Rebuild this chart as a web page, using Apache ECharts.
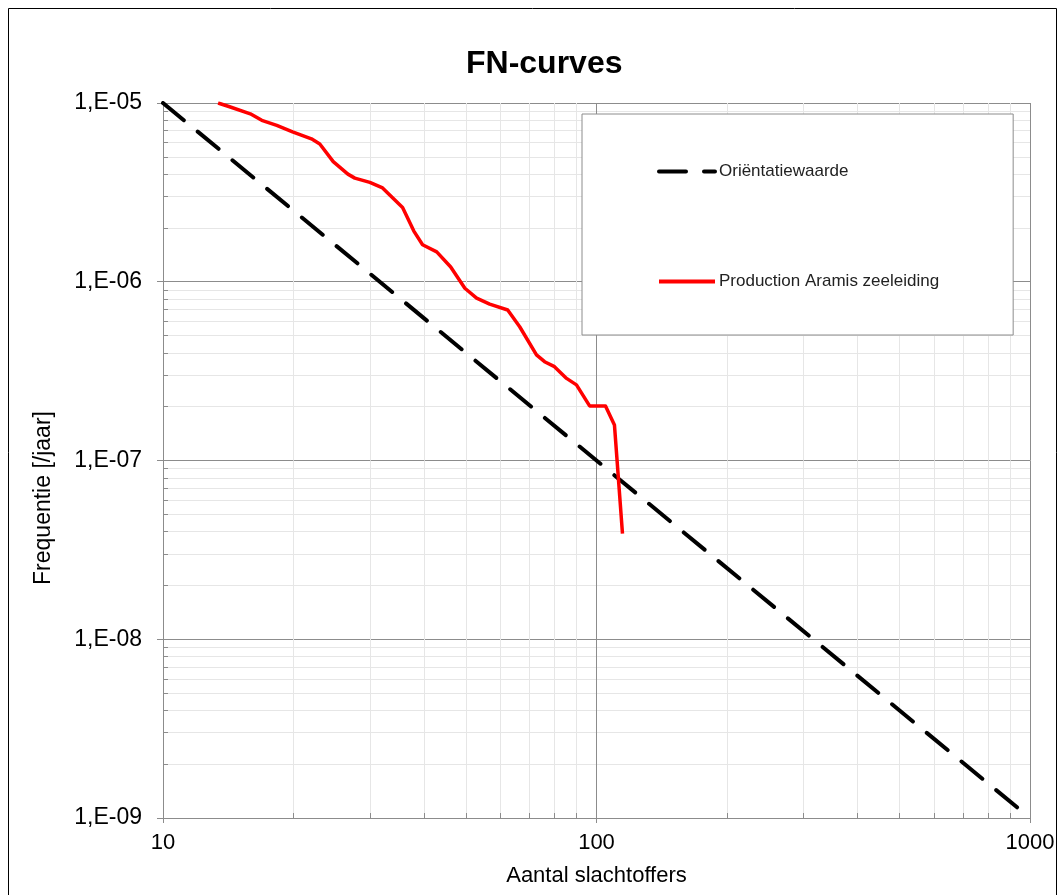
<!DOCTYPE html>
<html><head><meta charset="utf-8">
<script src="https://cdn.jsdelivr.net/npm/echarts@6/dist/echarts.min.js"></script>
<style>html,body{margin:0;padding:0;background:#fff}#c{width:1063px;height:895px}</style>
</head><body><div id="c"></div>
<script>
// ---- data ----
const xTicks = [10, 100, 1000];
const xTickLabels = ['10', '100', '1000'];
const yTicks = [1e-9, 1e-8, 1e-7, 1e-6, 1e-5];
const yTickLabels = ['1,E-09', '1,E-08', '1,E-07', '1,E-06', '1,E-05'];

const orientN = [10, 100, 1000];
const orientF = [1e-5, 1e-7, 1e-9];

const aramisN = [13.4, 14.3, 15.9, 16.9, 18.3, 19.9, 22.0, 23.0, 24.7, 26.7, 27.7, 30.0, 32.1, 35.7, 37.9, 39.7, 42.8, 46.1, 49.7, 52.9, 56.7, 62.4, 66.5, 72.7, 75.9, 80.0, 85.3, 89.9, 96.4, 104.9, 110.0, 114.8];
const aramisF = [1.0e-5, 9.5e-6, 8.7e-6, 8.0e-6, 7.5e-6, 6.9e-6, 6.3e-6, 5.9e-6, 4.7e-6, 4.0e-6, 3.8e-6, 3.6e-6, 3.35e-6, 2.6e-6, 1.92e-6, 1.61e-6, 1.47e-6, 1.21e-6, 9.2e-7, 8.1e-7, 7.5e-7, 6.95e-7, 5.6e-7, 3.9e-7, 3.57e-7, 3.35e-7, 2.88e-7, 2.65e-7, 2.02e-7, 2.02e-7, 1.58e-7, 3.9e-8];

const seriesNames = ['Oriëntatiewaarde', 'Production Aramis zeeleiding'];
// ---------------

const FONT = "'Liberation Sans', Arial, sans-serif";
function labelFor(ticks, labels, v) {
  const i = ticks.findIndex(t => Math.abs(Math.log10(t) - Math.log10(v)) < 1e-6);
  return i >= 0 ? labels[i] : '';
}

const chart = echarts.init(document.getElementById('c'), null, {renderer: 'canvas'});
chart.setOption({
  backgroundColor: '#fff',
  animation: false,
  title: {
    text: 'FN-curves',
    left: 461, top: 43,
    textStyle: {fontFamily: FONT, fontSize: 32, fontWeight: 'bold', color: '#000'}
  },
  grid: {left: 163, right: 33, top: 103, bottom: 77, containLabel: false, outerBoundsMode: 'none'},
  legend: {
    orient: 'vertical',
    left: 582, top: 114,
    padding: [49, 74, 45, 75],
    itemGap: 93,
    itemWidth: 56, itemHeight: 14,
    backgroundColor: '#fff',
    borderColor: '#8c8c8c', borderWidth: 1,
    itemStyle: {opacity: 0},
    lineStyle: {width: 4},
    textStyle: {fontFamily: FONT, fontSize: 17, color: '#222', padding: [0, 0, 0, -1]},
    data: seriesNames
  },
  xAxis: {
    type: 'log', logBase: 10, min: 10, max: 1000,
    name: 'Aantal slachtoffers', nameLocation: 'middle', nameGap: 47,
    nameTextStyle: {fontFamily: FONT, fontSize: 22, color: '#000'},
    axisLine: {show: true, lineStyle: {color: '#8c8c8c', width: 1}},
    axisTick: {show: true, length: 5, lineStyle: {color: '#8c8c8c'}},
    minorTick: {show: true, splitNumber: 9, length: -5, lineStyle: {color: '#8c8c8c'}},
    axisLabel: {fontFamily: FONT, fontSize: 22, color: '#000', margin: 14,
      formatter: v => labelFor(xTicks, xTickLabels, v)},
    splitLine: {show: true, lineStyle: {color: '#8c8c8c', width: 1}},
    minorSplitLine: {show: true, lineStyle: {color: '#e6e6e6', width: 1}}
  },
  yAxis: {
    type: 'log', logBase: 10, min: 1e-9, max: 1e-5,
    axisLine: {show: true, lineStyle: {color: '#8c8c8c', width: 1}},
    axisTick: {show: true, length: 6, lineStyle: {color: '#8c8c8c'}},
    minorTick: {show: true, splitNumber: 9, length: -5, lineStyle: {color: '#8c8c8c'}},
    axisLabel: {fontFamily: FONT, fontSize: 23, color: '#000', margin: 21,
      formatter: v => labelFor(yTicks, yTickLabels, v)},
    splitLine: {show: true, lineStyle: {color: '#8c8c8c', width: 1}},
    minorSplitLine: {show: true, lineStyle: {color: '#e6e6e6', width: 1}}
  },
  graphic: [
    {type: 'rect', silent: true, z: -10,
      shape: {x: 8.5, y: 8.5, width: 1048, height: 900},
      style: {fill: 'none', stroke: '#000', lineWidth: 1}},
    {type: 'text', silent: true,
      x: 44, y: 498, rotation: Math.PI / 2,
      style: {text: 'Frequentie [/jaar]', font: "23px " + FONT, fill: '#000',
        textAlign: 'center', textVerticalAlign: 'middle'}}
  ],
  series: [
    {
      name: seriesNames[0], type: 'line', showSymbol: false, symbol: 'none',
      data: orientN.map((n, i) => [n, orientF[i]]),
      lineStyle: {color: '#000', width: 4, type: [27, 18], cap: 'round'},
      itemStyle: {color: '#000'}, z: 3
    },
    {
      name: seriesNames[1], type: 'line', showSymbol: false, symbol: 'none',
      data: aramisN.map((n, i) => [n, aramisF[i]]),
      lineStyle: {color: '#ff0000', width: 3.5, join: 'round'},
      itemStyle: {color: '#ff0000'}, z: 4
    }
  ]
});
</script>
</body></html>
